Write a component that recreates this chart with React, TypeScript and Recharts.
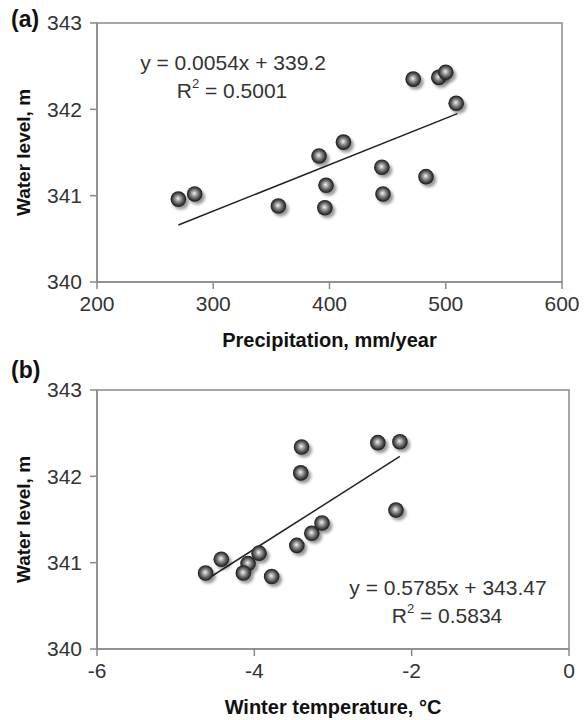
import { ScatterChart, Scatter, XAxis, YAxis, ReferenceArea, ReferenceLine } from 'recharts';

// (a) water level vs precipitation
const precipX = [270, 284, 356, 391, 397, 396, 412, 445, 446, 483, 472, 494, 500, 509];
const levelA = [340.96, 341.02, 340.88, 341.46, 341.12, 340.86, 341.62, 341.33, 341.02, 341.22, 342.35, 342.37, 342.43, 342.07];
const trendAX = [270, 510];
const trendAY = [340.66, 341.95];
const ticksAX = [200, 300, 400, 500, 600];

// (b) water level vs winter temperature
const tempX = [-4.62, -4.42, -4.08, -4.14, -3.94, -3.78, -3.46, -3.27, -3.14, -3.4, -3.41, -2.43, -2.15, -2.2];
const levelB = [340.88, 341.04, 340.99, 340.88, 341.11, 340.84, 341.2, 341.34, 341.46, 342.34, 342.04, 342.39, 342.4, 341.61];
const trendBX = [-4.6, -2.15];
const trendBY = [340.81, 342.23];
const ticksBX = [-6, -4, -2, 0];

const ticksY = [340, 341, 342, 343];

const FONT = '"Liberation Sans", Arial, sans-serif';
const AXIS = '#8a8a8a';
const TEXT = '#333';

const ptsA = precipX.map((x, i) => ({ x, y: levelA[i] }));
const ptsB = tempX.map((x, i) => ({ x, y: levelB[i] }));

function Ball(props: any) {
  const { cx, cy } = props;
  if (cx == null || cy == null) return <g />;
  return (
    <g>
      <ellipse cx={cx + 2.5} cy={cy + 3} rx={8} ry={7.5} fill="#000" opacity={0.4} filter="url(#ballShadow)" />
      <circle cx={cx} cy={cy} r={7.8} fill="url(#ballGrad)" />
    </g>
  );
}

const tickStyle = { fill: TEXT, fontSize: 21, fontFamily: FONT };

function yLabel(props: any) {
  const { viewBox } = props;
  const cy = viewBox.y + viewBox.height / 2;
  return (
    <text x={23} y={cy} transform={`rotate(-90, 23, ${cy})`} textAnchor="middle" dominantBaseline="central"
      style={{ fontFamily: FONT, fontWeight: 'bold', fontSize: 19, fill: '#111' }}>
      Water level, m
    </text>
  );
}

function xLabel(text: string, y: number) {
  return (props: any) => {
    const { viewBox } = props;
    return (
      <text x={viewBox.x + viewBox.width / 2} y={y} textAnchor="middle" dominantBaseline="central"
        style={{ fontFamily: FONT, fontWeight: 'bold', fontSize: 20, fill: '#111' }}>
        {text}
      </text>
    );
  };
}

const eqStyle = { position: 'absolute' as const, fontFamily: FONT, fontSize: 21, color: TEXT, whiteSpace: 'nowrap' as const, transform: 'translate(-50%, -50%)', lineHeight: 1 };
const panelStyle = { position: 'absolute' as const, fontFamily: FONT, fontSize: 23, fontWeight: 'bold' as const, color: '#111', lineHeight: 1 };
const supStyle = { fontSize: 13, verticalAlign: 'top', position: 'relative' as const, top: -3 };

export default function App() {
  return (
    <div style={{ position: 'absolute', left: 0, top: 0, width: 585, height: 720, background: '#fff' }}>
      <svg width={0} height={0} style={{ position: 'absolute' }}>
        <defs>
          <radialGradient id="ballGrad" cx="50%" cy="50%" r="50%" fx="47%" fy="45%">
            <stop offset="0%" stopColor="#f6f6f6" />
            <stop offset="22%" stopColor="#bcbcbc" />
            <stop offset="55%" stopColor="#707070" />
            <stop offset="85%" stopColor="#333" />
            <stop offset="100%" stopColor="#1a1a1a" />
          </radialGradient>
          <filter id="ballShadow" x="-50%" y="-50%" width="200%" height="200%">
            <feGaussianBlur stdDeviation="1.8" />
          </filter>
        </defs>
      </svg>

      <div style={{ position: 'absolute', left: 0, top: 0 }}>
        <ScatterChart width={585} height={360} margin={{ top: 23, right: 23, left: 0, bottom: 18 }}>
          <XAxis type="number" dataKey="x" domain={[200, 600]} ticks={ticksAX} height={60}
            stroke={AXIS} strokeWidth={1.5} tickSize={7} tickMargin={7} tick={tickStyle}
            label={xLabel('Precipitation, mm/year', 340)} />
          <YAxis type="number" dataKey="y" domain={[340, 343]} ticks={ticksY} width={97}
            stroke={AXIS} strokeWidth={1.5} tickSize={7} tickMargin={8} tick={tickStyle}
            label={yLabel} />
          <ReferenceArea x1={200} x2={600} y1={340} y2={343} fill="none" stroke={AXIS} strokeWidth={1.5} />
          <ReferenceLine segment={[{ x: trendAX[0], y: trendAY[0] }, { x: trendAX[1], y: trendAY[1] }]}
            stroke="#222" strokeWidth={1.5} />
          <Scatter data={ptsA} shape={Ball} isAnimationActive={false} />
        </ScatterChart>
      </div>

      <div style={{ position: 'absolute', left: 0, top: 360 }}>
        <ScatterChart width={585} height={360} margin={{ top: 30, right: 16, left: 0, bottom: 21 }}>
          <XAxis type="number" dataKey="x" domain={[-6, 0]} ticks={ticksBX} height={50}
            stroke={AXIS} strokeWidth={1.5} tickSize={7} tickMargin={7} tick={tickStyle}
            label={xLabel('Winter temperature, °C', 347)} />
          <YAxis type="number" dataKey="y" domain={[340, 343]} ticks={ticksY} width={97}
            stroke={AXIS} strokeWidth={1.5} tickSize={7} tickMargin={8} tick={tickStyle}
            label={yLabel} />
          <ReferenceArea x1={-6} x2={0} y1={340} y2={343} fill="none" stroke={AXIS} strokeWidth={1.5} />
          <ReferenceLine segment={[{ x: trendBX[0], y: trendBY[0] }, { x: trendBX[1], y: trendBY[1] }]}
            stroke="#222" strokeWidth={1.5} />
          <Scatter data={ptsB} shape={Ball} isAnimationActive={false} />
        </ScatterChart>
      </div>

      <div style={{ ...panelStyle, left: 11, top: 8 }}>(a)</div>
      <div style={{ ...panelStyle, left: 11, top: 359 }}>(b)</div>

      <div style={{ ...eqStyle, left: 233, top: 62 }}>y = 0.0054x + 339.2</div>
      <div style={{ ...eqStyle, left: 232, top: 90 }}>R<sup style={supStyle}>2</sup> = 0.5001</div>
      <div style={{ ...eqStyle, left: 448, top: 587 }}>y = 0.5785x + 343.47</div>
      <div style={{ ...eqStyle, left: 447, top: 615 }}>R<sup style={supStyle}>2</sup> = 0.5834</div>
    </div>
  );
}
